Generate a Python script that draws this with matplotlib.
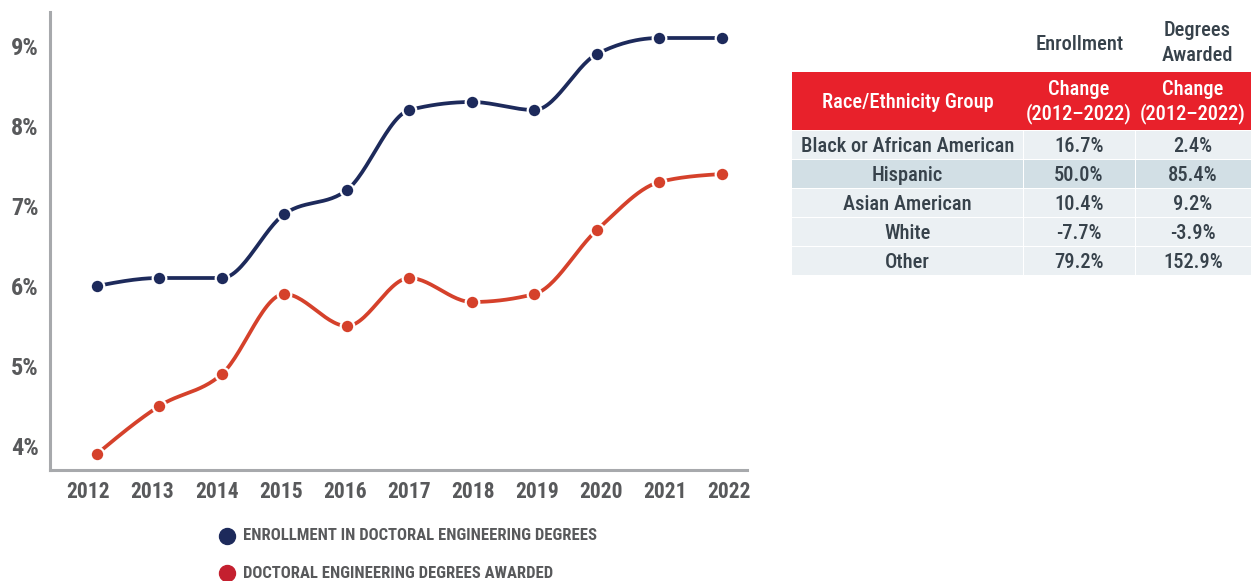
import numpy as np
import matplotlib
matplotlib.use("Agg")
import matplotlib.pyplot as plt
from matplotlib import font_manager
from matplotlib.patches import Rectangle

# pick a narrow sans if one is installed
installed = {f.name for f in font_manager.fontManager.ttflist}
FONT = next((f for f in ["Roboto Condensed", "Liberation Sans Narrow", "DejaVu Sans Condensed",
                         "Roboto", "DejaVu Sans"] if f in installed), "DejaVu Sans")
plt.rcParams["font.family"] = [FONT, "DejaVu Sans"]

years = list(range(2012, 2023))
enrollment = [6.0, 6.1, 6.1, 6.9, 7.2, 8.2, 8.3, 8.2, 8.9, 9.1, 9.1]
degrees = [3.9, 4.5, 4.9, 5.9, 5.5, 6.1, 5.8, 5.9, 6.7, 7.3, 7.4]
series_names = ["ENROLLMENT IN DOCTORAL ENGINEERING DEGREES", "DOCTORAL ENGINEERING DEGREES AWARDED"]

groups = ["Black or African American", "Hispanic", "Asian American", "White", "Other"]
enroll_change = ["16.7%", "50.0%", "10.4%", "-7.7%", "79.2%"]
degree_change = ["2.4%", "85.4%", "9.2%", "-3.9%", "152.9%"]

NAVY = "#1d2a5b"
RED = "#d5412b"
RED_LEG = "#c4202f"
GREY = "#58595b"
SPINE = "#a7a9ac"


def monotone(x, y, n=30):
    # monotone cubic (Fritsch-Carlson style) curve through the points
    x = np.asarray(x, float)
    y = np.asarray(y, float)
    h = np.diff(x)
    s = np.diff(y) / h
    m = np.zeros_like(y)
    for i in range(1, len(y) - 1):
        p = (s[i - 1] * h[i] + s[i] * h[i - 1]) / (h[i - 1] + h[i])
        m[i] = (np.sign(s[i - 1]) + np.sign(s[i])) * min(abs(s[i - 1]), abs(s[i]), 0.5 * abs(p))
    m[0] = (3 * s[0] - m[1]) / 2
    m[-1] = (3 * s[-1] - m[-2]) / 2
    xs, ys = [], []
    t = np.linspace(0, 1, n)
    for i in range(len(h)):
        h00 = 2 * t ** 3 - 3 * t ** 2 + 1
        h10 = t ** 3 - 2 * t ** 2 + t
        h01 = -2 * t ** 3 + 3 * t ** 2
        h11 = t ** 3 - t ** 2
        xs.extend(x[i] + t * h[i])
        ys.extend(h00 * y[i] + h10 * h[i] * m[i] + h01 * y[i + 1] + h11 * h[i] * m[i + 1])
    return xs, ys


fig = plt.figure(figsize=(12.51, 5.81), dpi=100)
ax = fig.add_axes([50 / 1251, 111 / 581, 697 / 1251, 458 / 581])

for vals, col in ((enrollment, NAVY), (degrees, RED)):
    sx, sy = monotone(years, vals)
    ax.plot(sx, sy, color=col, lw=2.7, solid_capstyle="round", zorder=2)
    ax.plot(years, vals, "o", ms=9.8, color=col, mec="white", mew=1.6, zorder=3)

ax.set_xlim(2011.25, 2022.4)
ax.set_ylim(3.7, 9.425)
ax.set_xticks([])
ax.set_yticks([4, 5, 6, 7, 8, 9])
ax.set_yticklabels([f"{v}%" for v in range(4, 10)])
for s in ("top", "right"):
    ax.spines[s].set_visible(False)
for s in ("left", "bottom"):
    ax.spines[s].set_color(SPINE)
    ax.spines[s].set_linewidth(2.2)
ax.tick_params(axis="y", length=0, labelsize=17.5, labelcolor=GREY, pad=8)
for lab in ax.get_yticklabels():
    lab.set_fontweight("bold")

# year labels sit on a slightly wider spacing than the points
fwd = lambda x: 2012 + (8.5 + (np.asarray(x) - 2012) * 62.5) / 64.1
inv = lambda u: 2012 + ((np.asarray(u) - 2012) * 64.1 - 8.5) / 62.5
xlab = ax.secondary_xaxis("bottom", functions=(fwd, inv))
xlab.set_xticks(years)
xlab.spines["bottom"].set_visible(False)
xlab.tick_params(length=0, labelsize=15.5, labelcolor=GREY, pad=8)
for lab in xlab.get_xticklabels():
    lab.set_fontweight("bold")

# legend below the plot
for i, (name, col) in enumerate(zip(series_names, (NAVY, RED_LEG))):
    y = 1 - (536 + 37 * i) / 581
    fig.add_artist(plt.Line2D([227 / 1251], [y], marker="o", ms=11.5, color=col,
                              transform=fig.transFigure))
    fig.text(243 / 1251, y, name, fontsize=12, fontweight="bold", color=GREY,
             va="center", ha="left")

# table on the right, in pixel coordinates
tab = fig.add_axes([0, 0, 1, 1])
tab.set_xlim(0, 1251)
tab.set_ylim(581, 0)
tab.axis("off")

col_edges = [792, 1023, 1135, 1251]
head_top, head_bot = 72, 130
row_h = 29
TXT = "#37424b"
FS = 14.8

tab.text(1080, 44, "Enrollment", ha="center", va="center", fontsize=FS, color=TXT,
         fontweight="medium")
tab.text(1197, 43, "Degrees\nAwarded", ha="center", va="center", fontsize=FS, color=TXT,
         linespacing=1.35, fontweight="medium")

tab.add_patch(Rectangle((col_edges[0], head_top), col_edges[-1] - col_edges[0],
                        head_bot - head_top, color="#e8212b", lw=0))
heads = ["Race/Ethnicity Group", "Change\n(2012\u20132022)", "Change\n(2012\u20132022)"]
for j, h in enumerate(heads):
    cx = (col_edges[j] + col_edges[j + 1]) / 2
    tab.text(cx, (head_top + head_bot) / 2 + 1, h, ha="center", va="center", fontsize=FS,
             color="white", linespacing=1.25, fontweight="medium")

for i, row in enumerate(zip(groups, enroll_change, degree_change)):
    top = head_bot + 1 + i * row_h
    face = "#d2dfe5" if i == 1 else "#ebf0f3"
    for j, val in enumerate(row):
        x0 = col_edges[j] + (1 if j else 0)
        tab.add_patch(Rectangle((x0, top), col_edges[j + 1] - x0, row_h - 1, color=face, lw=0))
        cx = (col_edges[j] + col_edges[j + 1]) / 2
        tab.text(cx, top + row_h / 2 + 1, val, ha="center", va="center", fontsize=FS, color=TXT,
                 fontweight="medium")

fig.savefig("out.png", dpi=100)
